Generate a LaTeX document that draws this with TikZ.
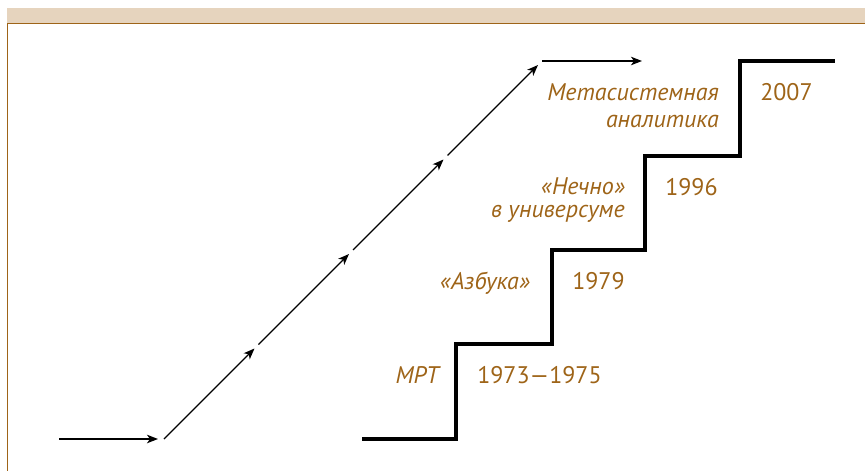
\documentclass[tikz,border=0pt]{standalone}
\usepackage{fontspec}
\setmainfont{PT Sans}
\usetikzlibrary{arrows,arrows.meta}
\definecolor{ochre}{HTML}{9E6418}
\definecolor{sand}{HTML}{E6D4BE}

\begin{document}
\begin{tikzpicture}[x=1pt,y=-1pt,semithick,
  lbl/.style={text=ochre,inner sep=0pt,align=right,
    font=\fontsize{24}{23}\selectfont\itshape},
  yr/.style={text=ochre,inner sep=0pt,font=\fontsize{24}{23}\selectfont},
  stair/.style={line width=4pt},
  ray/.style={line width=1.3pt,-{Stealth[length=11pt,width=8.5pt,inset=3pt]}}]
\useasboundingbox (0,0) rectangle (865,471);
% frame
\fill[sand] (7,8) rectangle (865,23);
\draw[ochre,line width=1pt] (7.5,471)--(7.5,23.5)--(865,23.5);
% arrows
\coordinate (A) at (59,439);
\coordinate (B) at (158,439);
\coordinate (P0) at (164,439);
\coordinate (Q1) at (254.5,348.5);
\coordinate (P1) at (258.5,344.5);
\coordinate (Q2) at (349,254);
\coordinate (P2) at (353,250);
\coordinate (Q3) at (443.5,159.5);
\coordinate (P3) at (447.5,155.5);
\coordinate (Q4) at (538,65);
\coordinate (C) at (542,61);
\coordinate (D) at (642,61);
\draw[ray] (A)--(B);
\draw[ray] (P0)--(Q1);
\draw[ray] (P1)--(Q2);
\draw[ray] (P2)--(Q3);
\draw[ray] (P3)--(Q4);
\draw[ray] (C)--(D);
% stairs
\coordinate (S0) at (362,439);
\coordinate (S1) at (456,439);
\coordinate (S2) at (456,344);
\coordinate (S3) at (552,344);
\coordinate (S4) at (552,250);
\coordinate (S5) at (645,250);
\coordinate (S6) at (645,156);
\coordinate (S7) at (740,156);
\coordinate (S8) at (740,61);
\coordinate (S9) at (835,61);
\draw[stair] (S0)--(S1)--(S2)--(S3)--(S4)--(S5)--(S6)--(S7)--(S8)--(S9);
% labels
\node[lbl,anchor=base east] (mrt) at (439,383) {МРТ};
\node[yr,anchor=base west] (y1) at (477,383) {1973—1975};
\node[lbl,anchor=base east] (azb) at (530,289) {«Азбука»};
\node[yr,anchor=base west] (y2) at (572,289) {1979};
\node[lbl,anchor=base east] (nech) at (625,217) {«Нечно»\\в универсуме};
\node[yr,anchor=base west] (y3) at (665,195) {1996};
\node[lbl,anchor=base east] (meta) at (719,127) {Метасистемная\\[4pt]аналитика};
\node[yr,anchor=base west] (y4) at (760,100) {2007};
\end{tikzpicture}
\end{document}
